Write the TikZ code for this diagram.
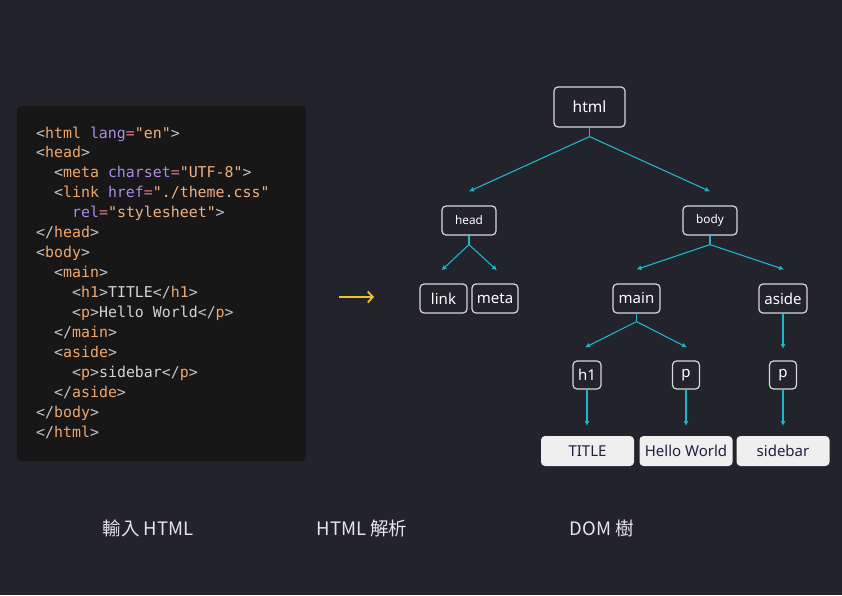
\documentclass[tikz,border=0pt]{standalone}
\usepackage{fontspec}
\setmainfont{Noto Sans}
\newfontfamily\codefont{DejaVu Sans Mono}
\newfontfamily\cjkfont{Noto Sans CJK TC}
\usetikzlibrary{arrows.meta,calc}
\definecolor{bgc}{HTML}{22232B}
\definecolor{codebg}{HTML}{171717}
\definecolor{ctagc}{HTML}{F0A66A}
\definecolor{cattrc}{HTML}{A98BE8}
\definecolor{ceqc}{HTML}{E8708A}
\definecolor{cstrc}{HTML}{F2B07E}
\definecolor{cpuc}{HTML}{C4C4CC}
\definecolor{ctxtc}{HTML}{D4D4D8}
\definecolor{cyanc}{HTML}{1FB5C9}
\definecolor{boxline}{HTML}{D9D9D9}
\definecolor{leafbg}{HTML}{EFEFEF}
\definecolor{leaftext}{HTML}{1F2040}
\definecolor{yel}{HTML}{F2C12E}
\definecolor{labc}{HTML}{E6E6E6}
\newcommand\ktag[1]{\textcolor{ctagc}{#1}}
\newcommand\kattr[1]{\textcolor{cattrc}{#1}}
\newcommand\keq{\textcolor{ceqc}{=}}
\newcommand\kstr[1]{\textcolor{cstrc}{#1}}
\newcommand\kpu[1]{\textcolor{cpuc}{#1}}
\newcommand\ktx[1]{\textcolor{ctxtc}{#1}}
\begin{document}
\begin{tikzpicture}[x=1pt,y=-1pt,
  codeline/.style={anchor=base west,inner sep=0pt,font=\codefont\fontsize{14.9}{16}\selectfont},
  tnode/.style={draw=boxline,line width=1.2pt,rounded corners=4pt,fill=bgc,text=white,inner sep=0pt,font=\fontsize{15}{16}\selectfont},
  smallnode/.style={tnode,font=\fontsize{11.8}{12}\selectfont,minimum width=54pt,minimum height=29pt},
  leaf/.style={fill=leafbg,draw=none,rounded corners=4pt,text=leaftext,inner sep=0pt,minimum width=93pt,minimum height=30pt,font=\fontsize{15}{16}\selectfont},
  conn/.style={draw=cyanc,line width=1.1pt,-{Latex[length=5pt,width=5pt]}},
  stub/.style={draw=cyanc,line width=1.1pt},
  lab/.style={text=labc,font=\fontsize{18.5}{20}\selectfont,inner sep=0pt}]
\useasboundingbox (0,0) rectangle (842,595);
\fill[bgc] (0,0) rectangle (842,595);
% code panel
\fill[codebg,rounded corners=4pt] (17,106) rectangle (306,461);
\node[codeline] (c1) at (36,138) {\kpu{<}\ktag{html} \kattr{lang}\keq\kstr{"en"}\kpu{>}};
\node[codeline] (c2) at (36,157.9) {\kpu{<}\ktag{head}\kpu{>}};
\node[codeline] (c3) at (54,177.9) {\kpu{<}\ktag{meta} \kattr{charset}\keq\kstr{"UTF-8"}\kpu{>}};
\node[codeline] (c4) at (54,197.8) {\kpu{<}\ktag{link} \kattr{href}\keq\kstr{"./theme.css"}};
\node[codeline] (c5) at (72,217.7) {\kattr{rel}\keq\kstr{"stylesheet"}\kpu{>}};
\node[codeline] (c6) at (36,237.7) {\kpu{</}\ktag{head}\kpu{>}};
\node[codeline] (c7) at (36,257.6) {\kpu{<}\ktag{body}\kpu{>}};
\node[codeline] (c8) at (54,277.5) {\kpu{<}\ktag{main}\kpu{>}};
\node[codeline] (c9) at (72,297.4) {\kpu{<}\ktag{h1}\kpu{>}\ktx{TITLE}\kpu{</}\ktag{h1}\kpu{>}};
\node[codeline] (c10) at (72,317.4) {\kpu{<}\ktag{p}\kpu{>}\ktx{Hello World}\kpu{</}\ktag{p}\kpu{>}};
\node[codeline] (c11) at (54,337.3) {\kpu{</}\ktag{main}\kpu{>}};
\node[codeline] (c12) at (54,357.2) {\kpu{<}\ktag{aside}\kpu{>}};
\node[codeline] (c13) at (72,377.2) {\kpu{<}\ktag{p}\kpu{>}\ktx{sidebar}\kpu{</}\ktag{p}\kpu{>}};
\node[codeline] (c14) at (54,397.1) {\kpu{</}\ktag{aside}\kpu{>}};
\node[codeline] (c15) at (36,417) {\kpu{</}\ktag{body}\kpu{>}};
\node[codeline] (c16) at (36,437) {\kpu{</}\ktag{html}\kpu{>}};
% middle arrow
\coordinate (ya) at (339,297);
\coordinate (yb) at (374,297);
\draw[yel,line width=1.8pt,-{Straight Barb[length=5pt,width=11pt]}] (ya) -- (yb);
% tree nodes
\node[tnode,minimum width=71pt,minimum height=40pt,font=\fontsize{15.5}{16}\selectfont] (html) at (589.5,107) {html};
\node[smallnode] (head) at (469,220.5) {head};
\node[smallnode] (body) at (710,220.5) {body};
\node[tnode,minimum width=47pt,minimum height=29pt] (link) at (443.5,298.5) {link};
\node[tnode,minimum width=46pt,minimum height=29pt] (meta) at (495,298.5) {meta};
\node[tnode,minimum width=47pt,minimum height=29pt] (main) at (636.5,298.5) {main};
\node[tnode,minimum width=48pt,minimum height=29pt] (aside) at (783,298.5) {aside};
\node[tnode,minimum width=28pt,minimum height=28pt] (h1) at (587,375) {h1};
\node[tnode,minimum width=27pt,minimum height=28pt] (p1) at (686,375) {p};
\node[tnode,minimum width=27pt,minimum height=28pt] (p2) at (783,375) {p};
\node[leaf] (t1) at (587.5,451) {TITLE};
\node[leaf] (t2) at (686,451) {Hello World};
\node[leaf] (t3) at (783,451) {sidebar};
% junctions
\coordinate (jh) at ($(html.south)+(0,9)$);
\coordinate (jhe) at ($(head.south)+(0,9)$);
\coordinate (jb) at ($(body.south)+(0,9)$);
\coordinate (jm) at ($(main.south)+(0,8)$);
% connectors
\draw[stub] (html.south) -- (jh);
\draw[conn] (jh) -- ($(head.north)+(0,-14)$);
\draw[conn] (jh) -- ($(body.north)+(0,-14)$);
\draw[stub] (head.south) -- (jhe);
\draw[conn] (jhe) -- ($(link.north)+(-2,-13)$);
\draw[conn] (jhe) -- ($(meta.north)+(2,-13)$);
\draw[stub] (body.south) -- (jb);
\draw[conn] (jb) -- ($(main.north)+(0,-14)$);
\draw[conn] (jb) -- ($(aside.north)+(1,-14)$);
\draw[stub] (main.south) -- (jm);
\draw[conn] (jm) -- ($(h1.north)+(-2,-13)$);
\draw[conn] (jm) -- ($(p1.north)+(1,-13)$);
\draw[conn] (aside.south) -- (p2.north |- 0,{362-13});
\draw[conn] (h1.south) -- (h1.south |- 0,426);
\draw[conn] (p1.south) -- (p1.south |- 0,426);
\draw[conn] (p2.south) -- (p2.south |- 0,426);
% labels
\node[lab] (l1) at (148,528) {\cjkfont 輸入 HTML};
\node[lab] (l2) at (362,528) {\cjkfont HTML 解析};
\node[lab] (l3) at (602,528) {\cjkfont DOM 樹};
\end{tikzpicture}
\end{document}
